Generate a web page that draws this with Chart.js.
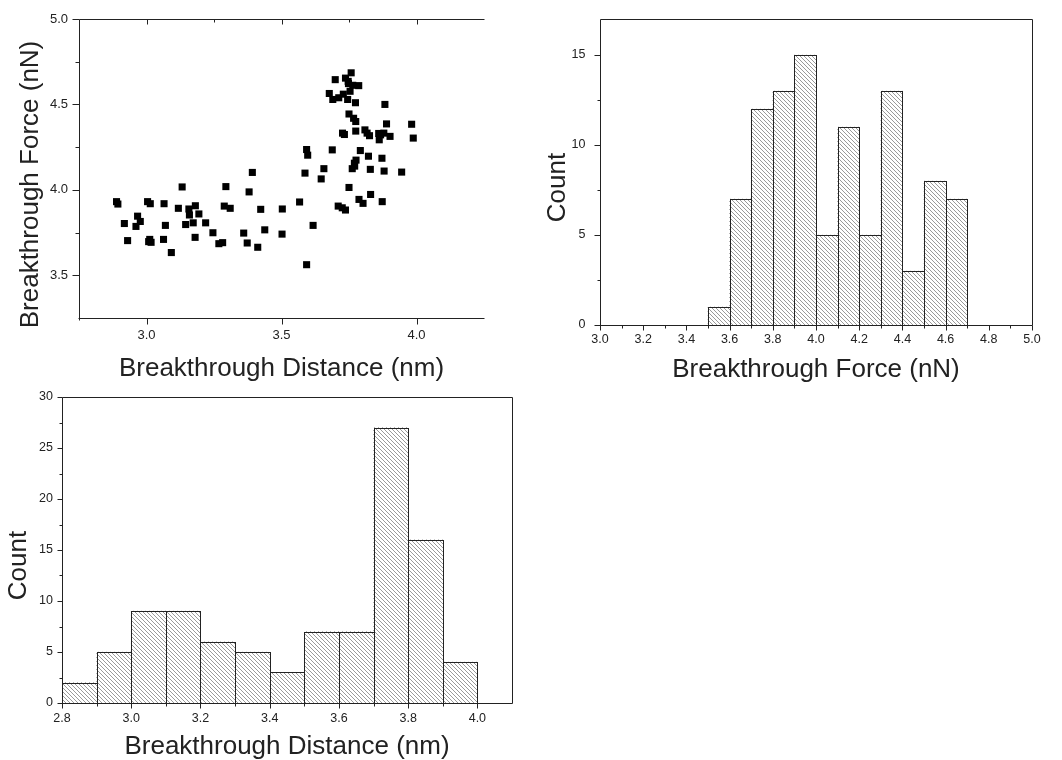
<!DOCTYPE html>
<html>
<head>
<meta charset="utf-8">
<title>Breakthrough force and distance</title>
<script src="https://cdn.jsdelivr.net/npm/chart.js@4.4.1/dist/chart.umd.min.js"></script>
<style>
  html, body { margin: 0; padding: 0; background: #fff; overflow: hidden; }
  .panel { position: absolute; }
</style>
</head>
<body>
<canvas id="scatterChart" class="panel" width="520" height="385" style="left:0;top:0"></canvas>
<canvas id="forceHist" class="panel" width="542" height="400" style="left:520px;top:0"></canvas>
<canvas id="distHist" class="panel" width="540" height="385" style="left:0;top:385px"></canvas>
<script>
/* ---------- measured data ---------- */
// one entry per indentation event: distance (nm) and force (nN), same order
const distanceNm = [
  2.889, 2.894, 2.918, 2.930, 2.967, 2.961, 2.977, 3.004, 3.014, 3.012,
  3.017, 3.008, 3.065, 3.070, 3.063, 3.092, 3.118, 3.132, 3.145, 3.157,
  3.159, 3.181, 3.173, 3.180, 3.194, 3.219, 3.246, 3.268, 3.282, 3.294,
  3.288, 3.310, 3.360, 3.373, 3.380, 3.392, 3.423, 3.412, 3.438, 3.503,
  3.502, 3.567, 3.587, 3.593, 3.597, 3.593, 3.617, 3.647, 3.657, 3.677,
  3.688, 3.690, 3.699, 3.712, 3.710, 3.725, 3.726, 3.733, 3.729, 3.737,
  3.737, 3.745, 3.747, 3.748, 3.750, 3.750, 3.758, 3.754, 3.762, 3.770,
  3.764, 3.767, 3.775, 3.774, 3.775, 3.771, 3.776, 3.786, 3.787, 3.792,
  3.802, 3.809, 3.817, 3.822, 3.826, 3.829, 3.830, 3.862, 3.867, 3.860,
  3.872, 3.873, 3.880, 3.879, 3.883, 3.889, 3.902, 3.945, 3.982, 3.988
];
const forceNn = [
  3.931, 3.917, 3.803, 3.703, 3.846, 3.786, 3.815, 3.931, 3.919, 3.710,
  3.693, 3.697, 3.919, 3.792, 3.710, 3.633, 3.892, 4.017, 3.797, 3.888,
  3.853, 3.907, 3.807, 3.722, 3.859, 3.807, 3.749, 3.685, 3.691, 4.019,
  3.905, 3.892, 3.747, 3.689, 3.988, 4.102, 3.886, 3.664, 3.766, 3.888,
  3.741, 3.929, 4.098, 4.236, 4.203, 3.562, 3.792, 4.064, 4.124, 4.564,
  4.234, 4.529, 4.645, 4.539, 3.905, 3.895, 4.332, 4.324, 4.560, 4.654,
  3.882, 4.529, 4.635, 4.622, 4.444, 4.014, 4.685, 4.577, 4.124, 4.156,
  4.612, 4.419, 4.400, 4.510, 4.344, 4.139, 4.174, 4.610, 3.944, 4.230,
  3.921, 4.351, 4.332, 4.197, 4.317, 4.120, 3.973, 4.293, 4.322, 4.330,
  4.185, 3.931, 4.110, 4.332, 4.500, 4.386, 4.313, 4.104, 4.384, 4.303
];

// histogram of breakthrough force, 0.1 nN bins (left edges)
const forceBinStart = [3.5, 3.6, 3.7, 3.8, 3.9, 4.0, 4.1, 4.2, 4.3, 4.4, 4.5, 4.6];
const forceCounts   = [1, 7, 12, 13, 15, 5, 11, 5, 13, 3, 8, 7];

// histogram of breakthrough distance, 0.1 nm bins (left edges)
const distBinStart = [2.8, 2.9, 3.0, 3.1, 3.2, 3.3, 3.4, 3.5, 3.6, 3.7, 3.8, 3.9];
const distCounts   = [2, 5, 9, 9, 6, 5, 3, 7, 7, 27, 16, 4];
const binWidth = 0.1;

// tick positions
const scatterXTicks = [3.0, 3.5, 4.0];
const scatterXMinor = [3.25, 3.75];
const scatterYTicks = [3.5, 4.0, 4.5, 5.0];
const scatterYMinor = [3.75, 4.25, 4.75];
const forceXTicks = [3.0, 3.2, 3.4, 3.6, 3.8, 4.0, 4.2, 4.4, 4.6, 4.8, 5.0];
const forceXMinor = [3.1, 3.3, 3.5, 3.7, 3.9, 4.1, 4.3, 4.5, 4.7, 4.9];
const countYTicks15 = [0, 5, 10, 15];
const countYMinor15 = [2.5, 7.5, 12.5];
const distXTicks = [2.8, 3.0, 3.2, 3.4, 3.6, 3.8, 4.0];
const distXMinor = [2.9, 3.1, 3.3, 3.5, 3.7, 3.9];
const countYTicks30 = [0, 5, 10, 15, 20, 25, 30];
const countYMinor30 = [2.5, 7.5, 12.5, 17.5, 22.5, 27.5];

/* ---------- look ---------- */
const INK = '#222';
const FONT = '"Liberation Sans", Arial, Helvetica, sans-serif';
Chart.defaults.font.family = FONT;
Chart.defaults.color = INK;

// diagonal "\" hatch used for the histogram bars
function makeHatch() {
  const s = 4;
  const c = document.createElement('canvas');
  c.width = s; c.height = s;
  const g = c.getContext('2d');
  g.strokeStyle = '#9a9a9a';
  g.lineWidth = 1;
  g.beginPath();
  g.moveTo(-1, -1); g.lineTo(s + 1, s + 1);
  g.moveTo(-1, s - 1); g.lineTo(1, s + 1);
  g.moveTo(s - 1, -1); g.lineTo(s + 1, 1);
  g.stroke();
  return g.createPattern(c, 'repeat');
}
const hatch = makeHatch();

// axis box, tick marks, rotated y title and bar outlines
const framePlugin = {
  id: 'frame',
  afterDatasetsDraw(chart) {
    if (chart.config.type !== 'bar') return;
    const ctx = chart.ctx;
    ctx.save();
    ctx.strokeStyle = INK;
    ctx.lineWidth = 1;
    chart.getDatasetMeta(0).data.forEach(bar => {
      const {x, y, base, width} = bar.getProps(['x', 'y', 'base', 'width'], true);
      const l = Math.round(x - width / 2) + 0.5;
      const r = Math.round(x + width / 2) + 0.5;
      const t = Math.round(y) + 0.5;
      const b = Math.round(base) + 0.5;
      ctx.strokeRect(l, t, r - l, b - t);
    });
    ctx.restore();
  },
  afterDraw(chart, args, opts) {
    const ctx = chart.ctx;
    const area = chart.chartArea;
    const L = Math.round(area.left) + 0.5, R = Math.round(area.right) + 0.5;
    const T = Math.round(area.top) + 0.5, B = Math.round(area.bottom) + 0.5;
    ctx.save();
    ctx.strokeStyle = INK;
    ctx.lineWidth = 1;
    ctx.beginPath();
    opts.sides.forEach(side => {
      if (side === 'top') { ctx.moveTo(L, T); ctx.lineTo(R, T); }
      if (side === 'bottom') { ctx.moveTo(L - 1, B); ctx.lineTo(R, B); }
      if (side === 'left') { ctx.moveTo(L, T); ctx.lineTo(L, B + 2); }
      if (side === 'right') { ctx.moveTo(R, T); ctx.lineTo(R, B); }
    });
    opts.marks.forEach(m => {
      const scale = chart.scales[m.axis];
      m.values.forEach(v => {
        const p = Math.round(scale.getPixelForValue(v)) + 0.5;
        if (m.side === 'bottom') { ctx.moveTo(p, B); ctx.lineTo(p, B + m.len); }
        if (m.side === 'top') { ctx.moveTo(p, T); ctx.lineTo(p, T - m.len); }
        if (m.side === 'left') { ctx.moveTo(L, p); ctx.lineTo(L - m.len, p); }
      });
    });
    ctx.stroke();

    const yt = opts.yTitle;
    ctx.fillStyle = INK;
    ctx.font = '26px ' + FONT;
    ctx.textAlign = 'center';
    ctx.textBaseline = 'middle';
    ctx.translate(yt.x, (area.top + area.bottom) / 2 + yt.shift);
    ctx.rotate(-Math.PI / 2);
    ctx.fillText(yt.text, 0, 0);
    ctx.restore();
  }
};

// fixed-size axes so the plot areas line up across panels
function xAxis(min, max, ticks, height, tickPad, labelSize, title, titlePad) {
  return {
    type: 'linear', min, max, offset: false,
    afterBuildTicks: a => { a.ticks = ticks.map(v => ({value: v})); },
    afterFit: a => { a.height = height; },
    grid: {display: false, drawTicks: true, tickLength: tickPad[0]},
    border: {display: false},
    ticks: {padding: tickPad[1], autoSkip: false, maxRotation: 0,
            font: {size: labelSize}, callback: v => Number(v).toFixed(1)},
    title: {display: true, text: title, font: {size: 26},
            padding: {top: 0, bottom: titlePad}}
  };
}
function yAxis(min, max, ticks, width, tickPad, labelSize, fmt) {
  return {
    type: 'linear', min, max,
    afterBuildTicks: a => { a.ticks = ticks.map(v => ({value: v})); },
    afterFit: a => { a.width = width; },
    grid: {display: false, drawTicks: true, tickLength: tickPad[0]},
    border: {display: false},
    ticks: {padding: tickPad[1], autoSkip: false, font: {size: labelSize}, callback: fmt}
  };
}

const baseOptions = {
  responsive: false,
  animation: false,
  events: []
};

/* ---------- force vs distance scatter ---------- */
new Chart(document.getElementById('scatterChart'), {
  type: 'scatter',
  data: {
    datasets: [{
      data: distanceNm.map((d, i) => ({x: d, y: forceNn[i]})),
      pointStyle: 'rect',
      pointRadius: 5,
      backgroundColor: '#000',
      borderWidth: 0
    }]
  },
  options: {
    ...baseOptions,
    layout: {padding: {top: 19, right: 36, left: 0, bottom: 0}},
    plugins: {
      legend: {display: false},
      tooltip: {enabled: false},
      frame: {
        sides: ['top', 'bottom', 'left'],
        marks: [
          {axis: 'y', side: 'left', values: scatterYTicks, len: 7},
          {axis: 'y', side: 'left', values: scatterYMinor, len: 4},
          {axis: 'x', side: 'bottom', values: scatterXTicks, len: 6},
          {axis: 'x', side: 'top', values: scatterXTicks, len: -5},
          {axis: 'x', side: 'top', values: scatterXMinor, len: -3}
        ],
        yTitle: {text: 'Breakthrough Force (nN)', x: 31, shift: 16}
      }
    },
    scales: {
      x: xAxis(2.75, 4.25, scatterXTicks, 67, [6, 3.5], 13, 'Breakthrough Distance (nm)', 1),
      y: yAxis(3.25, 5.0, scatterYTicks, 79, [7, 4], 13, v => Number(v).toFixed(1))
    }
  },
  plugins: [framePlugin]
});

/* ---------- histogram helper ---------- */
function histogram(canvasId, binStart, counts, opts) {
  return new Chart(document.getElementById(canvasId), {
    type: 'bar',
    data: {
      datasets: [{
        data: binStart.map((b, i) => ({x: b + binWidth / 2, y: counts[i]})),
        backgroundColor: hatch,
        borderWidth: 0,
        barPercentage: 1,
        categoryPercentage: 1
      }]
    },
    options: {
      ...baseOptions,
      layout: {padding: opts.padding},
      plugins: {
        legend: {display: false},
        tooltip: {enabled: false},
        frame: {sides: ['top', 'right', 'bottom', 'left'], marks: opts.marks, yTitle: opts.yTitle}
      },
      scales: {x: opts.x, y: opts.y}
    },
    plugins: [framePlugin]
  });
}

/* ---------- force histogram ---------- */
histogram('forceHist', forceBinStart, forceCounts, {
  padding: {top: 19, right: 30, left: 0, bottom: 0},
  x: xAxis(3.0, 5.0, forceXTicks, 75, [5, 2.5], 12.5, 'Breakthrough Force (nN)', 14.5),
  y: yAxis(0, 17, countYTicks15, 80, [6, 8.5], 12.5, v => String(v)),
  marks: [
    {axis: 'y', side: 'left', values: countYTicks15, len: 6},
    {axis: 'y', side: 'left', values: countYMinor15, len: 3},
    {axis: 'x', side: 'bottom', values: forceXTicks, len: 5},
    {axis: 'x', side: 'bottom', values: forceXMinor, len: 3}
  ],
  yTitle: {text: 'Count', x: 38, shift: 15.5}
});

/* ---------- distance histogram ---------- */
histogram('distHist', distBinStart, distCounts, {
  padding: {top: 12, right: 28, left: 0, bottom: 0},
  x: xAxis(2.8, 4.1, distXTicks, 67, [5, 2.6], 12.5, 'Breakthrough Distance (nm)', 7.4),
  y: yAxis(0, 30, countYTicks30, 62, [5, 4], 12.5, v => String(v)),
  marks: [
    {axis: 'y', side: 'left', values: countYTicks30, len: 5},
    {axis: 'y', side: 'left', values: countYMinor30, len: 3},
    {axis: 'x', side: 'bottom', values: distXTicks, len: 5},
    {axis: 'x', side: 'bottom', values: distXMinor, len: 3}
  ],
  yTitle: {text: 'Count', x: 19, shift: 15.5}
});
</script>
</body>
</html>
